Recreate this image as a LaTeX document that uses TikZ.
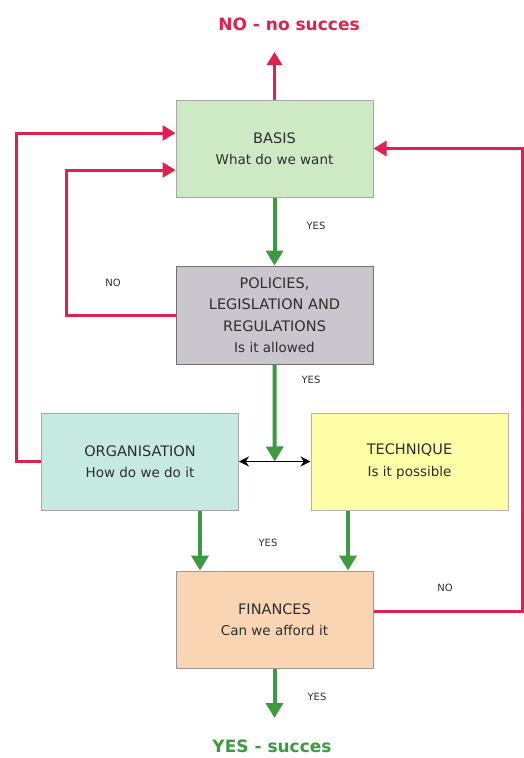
\documentclass[tikz,border=0pt]{standalone}
\usepackage{fontspec}
\setmainfont{DejaVu Sans}
\usetikzlibrary{arrows.meta,calc}
\definecolor{rd}{HTML}{E0204E}
\definecolor{gn}{HTML}{3E9A40}
\definecolor{txt}{HTML}{2E2E2E}
\newcommand{\bxhead}[1]{{\fontsize{14.5}{21.5}\selectfont #1}}
\newcommand{\bxsub}[1]{{\fontsize{13.5}{21.5}\selectfont #1}}
\tikzset{
  box/.style={draw=#1, line width=1pt, minimum width=197pt, minimum height=97pt,
    align=center, inner sep=2pt, text=txt, font=\fontsize{13.5}{21.5}\selectfont},
  redline/.style={draw=rd, line width=3pt, line join=miter},
  redarrow/.style={redline, -{Triangle[width=15pt,length=13pt]}},
  greenarrow/.style={draw=gn, line width=4pt, -{Triangle[width=17pt,length=15pt]}},
  lbl/.style={font=\fontsize{10}{12}\selectfont, text=txt},
  biglbl/.style={font=\fontsize{17}{19}\selectfont\bfseries}
}
\begin{document}
\begin{tikzpicture}[x=1pt,y=-1pt]
\useasboundingbox (0,0) rectangle (524,758);
% boxes
\node[box=black!35, fill={rgb,255:red,205;green,234;blue,196}] (basis) at (274.5,148.5) {\bxhead{BASIS}\\\bxsub{What do we want}};
\node[box=black!55, fill={rgb,255:red,201;green,198;blue,205}, minimum height=98pt] (pol) at (274.5,315) {\bxhead{POLICIES,}\\\bxhead{LEGISLATION AND}\\\bxhead{REGULATIONS}\\\bxsub{Is it allowed}};
\node[box=black!35, fill={rgb,255:red,198;green,233;blue,226}] (org) at (140,461.5) {\bxhead{ORGANISATION}\\\bxsub{How do we do it}};
\node[box=black!30, fill={rgb,255:red,255;green,255;blue,168}] (tech) at (409.5,461.5) {\bxhead{TECHNIQUE}\\\bxsub{Is it possible}};
\node[box=black!40, fill={rgb,255:red,249;green,213;blue,180}] (fin) at (274.5,619.5) {\bxhead{FINANCES}\\\bxsub{Can we afford it}};
% free ends
\coordinate (top) at (274.5,52);
\coordinate (bottom) at (274.5,718);
\coordinate (junc) at ($(org.east)!0.5!(tech.west)$);
% titles
\node[biglbl, text=rd] (nosucc) at (289,24) {NO - no succes};
\node[biglbl, text=gn] (yessucc) at (272,746) {YES - succes};
% red connectors
\draw[redarrow] (basis.north) -- (top);
\draw[redarrow] ([yshift=8pt]fin.east) -- (522.5,611.5) -- (522.5,148.5) -- (basis.east);
\draw[redarrow] (pol.west) -- (66,315) -- (66,170) -- ([yshift=-21.5pt]basis.west);
\draw[redarrow] (org.west) -- (16,461.5) -- (16,133) -- ([yshift=15.5pt]basis.west);
% green connectors
\draw[greenarrow] (basis.south) -- (pol.north);
\draw[greenarrow] (pol.south) -- (junc);
\draw[greenarrow] ([xshift=60pt]org.south) -- ([xshift=60pt]org.south |- fin.north);
\draw[greenarrow] ([xshift=-61.5pt]tech.south) -- ([xshift=-61.5pt]tech.south |- fin.north);
\draw[greenarrow] (fin.south) -- (bottom);
% black double arrow
\draw[line width=1.5pt, {Stealth[width=10pt,length=10pt]}-{Stealth[width=10pt,length=10pt]}] (org.east) -- (tech.west);
% labels
\node[lbl] (y1) at (316,226) {YES};
\node[lbl] (n1) at (113,283) {NO};
\node[lbl] (y2) at (311,380) {YES};
\node[lbl] (y3) at (268,543) {YES};
\node[lbl] (n2) at (445,588) {NO};
\node[lbl] (y4) at (317,697) {YES};
\end{tikzpicture}
\end{document}
